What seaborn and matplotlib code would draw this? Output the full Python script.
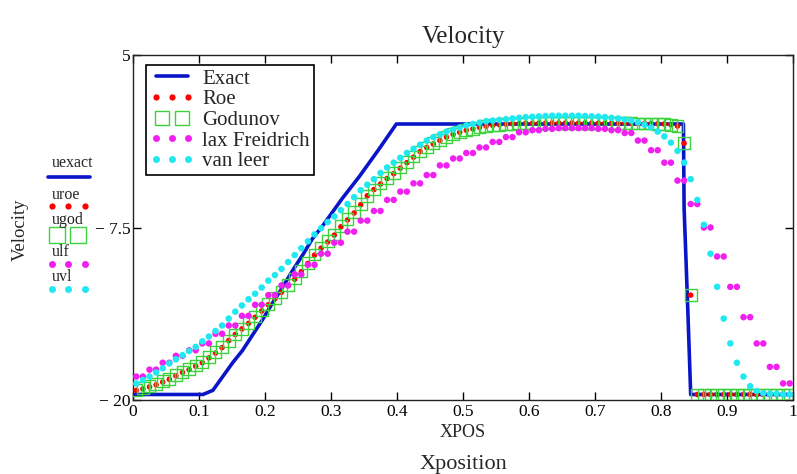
import numpy as np
import matplotlib
matplotlib.use("Agg")
import matplotlib.pyplot as plt
import seaborn as sns
from matplotlib.lines import Line2D
from matplotlib.legend_handler import HandlerLine2D

# ---------------- data ----------------
x_cells = np.linspace(0.005, 0.995, 100)   # cell centres, dx = 0.01

exact_x = [0.0, 0.106, 0.121, 0.136, 0.151, 0.166, 0.181, 0.196, 0.211, 0.227,
           0.242, 0.257, 0.272, 0.287, 0.302, 0.317, 0.343, 0.358, 0.373, 0.386,
           0.399, 0.834, 0.835, 0.838, 0.841, 0.845, 1.0]
exact_u = [-19.6, -19.6, -19.3, -18.3, -17.3, -16.4, -15.3, -14.2, -13.0, -11.8,
           -10.6, -9.5, -8.3, -7.4, -6.4, -5.4, -3.8, -2.8, -1.8, -0.9,
           0.0, 0.0, -6.1, -10.0, -14.0, -19.6, -19.6]

u_roe = [-19.3, -19.2, -19.05, -18.9, -18.7, -18.5, -18.25, -18.0, -17.8, -17.55,
         -17.3, -16.95, -16.6, -16.2, -15.7, -15.25, -14.85, -14.45, -14.0, -13.55,
         -13.1, -12.65, -12.2, -11.7, -11.25, -10.7, -10.1, -9.5, -9.0, -8.55,
         -8.05, -7.45, -6.95, -6.45, -5.85, -5.2, -4.75, -4.35, -3.95, -3.6,
         -3.2, -2.8, -2.4, -2.0, -1.7, -1.45, -1.2, -0.95, -0.75, -0.6,
         -0.45, -0.35, -0.25, -0.15, -0.1, -0.05,
         0.0, 0.02, 0.03, 0.05, 0.05, 0.06, 0.06, 0.07, 0.07, 0.07,
         0.07, 0.07, 0.07, 0.07, 0.06, 0.06, 0.06, 0.05, 0.05, 0.05,
         0.04, 0.04, 0.03, 0.02, 0.0, -0.05, -0.15,
         -1.4, -12.4,
         -19.6, -19.6, -19.6, -19.6, -19.6, -19.6, -19.6, -19.6, -19.6, -19.6,
         -19.6, -19.6, -19.6, -19.6, -19.6]

u_god = [-19.3, -19.15, -19.0, -18.85, -18.65, -18.45, -18.2, -17.95, -17.75, -17.5,
         -17.25, -16.9, -16.55, -16.15, -15.7, -15.25, -14.85, -14.4, -13.95, -13.5,
         -13.05, -12.6, -12.15, -11.65, -11.2, -10.65, -10.05, -9.45, -8.95, -8.5,
         -8.0, -7.4, -6.9, -6.4, -5.8, -5.2, -4.75, -4.3, -3.9, -3.55,
         -3.15, -2.75, -2.35, -2.0, -1.7, -1.4, -1.15, -0.95, -0.75, -0.6,
         -0.45, -0.35, -0.25, -0.15, -0.1, -0.05,
         0.0, 0.02, 0.03, 0.05, 0.05, 0.06, 0.06, 0.07, 0.07, 0.07,
         0.07, 0.07, 0.07, 0.07, 0.06, 0.06, 0.06, 0.05, 0.05, 0.05,
         0.04, 0.04, 0.03, 0.02, 0.0, -0.05, -0.15,
         -1.4, -12.4,
         -19.6, -19.6, -19.6, -19.6, -19.6, -19.6, -19.6, -19.6, -19.6, -19.6,
         -19.6, -19.6, -19.6, -19.6, -19.6]

u_lf = [-18.3, -18.3, -17.8, -17.8, -17.3, -17.3, -16.8, -16.8, -16.4, -16.4,
        -15.9, -15.9, -15.2, -15.2, -14.6, -14.6, -13.9, -13.9, -13.1, -13.1,
        -12.4, -12.4, -11.7, -11.7, -10.9, -10.9, -10.2, -10.2, -9.4, -9.4,
        -8.6, -8.6, -7.8, -7.8, -7.0, -7.0, -6.3, -6.3, -5.5, -5.5,
        -4.9, -4.9, -4.3, -4.3, -3.7, -3.7, -3.0, -3.0, -2.5, -2.5,
        -2.1, -2.1, -1.7, -1.7, -1.3, -1.3, -0.95, -0.95, -0.6, -0.6,
        -0.45, -0.45, -0.35, -0.35, -0.3, -0.3, -0.3, -0.3, -0.3, -0.3,
        -0.35, -0.35, -0.45, -0.45, -0.65, -0.65, -1.2, -1.2, -1.9, -1.9,
        -2.8, -2.8, -4.1, -4.1, -5.8, -5.8, -7.5, -7.5, -9.6, -9.6,
        -11.8, -11.8, -14.0, -14.0, -15.9, -15.9, -17.6, -17.6, -18.8, -18.8]

u_vl = [-18.8, -18.55, -18.3, -18.0, -17.7, -17.35, -17.05, -16.75, -16.45, -16.15,
        -15.75, -15.4, -15.0, -14.6, -14.1, -13.6, -13.15, -12.7, -12.3, -11.85,
        -11.35, -10.95, -10.5, -10.0, -9.5, -9.0, -8.5, -8.0, -7.55, -7.1,
        -6.7, -6.25, -5.8, -5.3, -4.8, -4.4, -4.0, -3.55, -3.15, -2.8,
        -2.45, -2.1, -1.8, -1.5, -1.2, -0.95, -0.75, -0.55, -0.4, -0.25,
        -0.1, 0.0, 0.1, 0.2, 0.25, 0.3, 0.35, 0.4, 0.45, 0.5,
        0.52, 0.55, 0.58, 0.6, 0.6, 0.6, 0.6, 0.6, 0.58, 0.56,
        0.54, 0.5, 0.45, 0.4, 0.33, 0.25, 0.12, -0.05, -0.25, -0.55,
        -0.9, -1.35, -1.95, -2.8, -4.0, -5.5, -7.3, -9.4, -11.8, -14.1,
        -15.9, -17.3, -18.3, -19.0, -19.35, -19.5, -19.55, -19.55, -19.6, -19.6]

series_labels = ["Exact", "Roe", "Godunov", "lax Freidrich", "van leer"]
var_names = ["uexact", "uroe", "ugod", "ulf", "uvl"]
x_ticks = [0, 0.1, 0.2, 0.3, 0.4, 0.5, 0.6, 0.7, 0.8, 0.9, 1]
x_ticklabels = ["0", "0.1", "0.2", "0.3", "0.4", "0.5", "0.6", "0.7", "0.8", "0.9", "1"]
y_ticks = [5, -7.5, -20]
y_ticklabels = ["5", "\u2212 7.5", "\u2212 20"]

# ---------------- style ----------------
sns.set_style("white")
plt.rcParams["font.family"] = ["Liberation Serif", "DejaVu Serif"]

C_EXACT = "#0a14c8"
C_ROE = "#ff0000"
C_GOD = "#3cd23c"
C_LF = "#f020f0"
C_VL = "#20e8f0"

W, H = 797, 474
fig = plt.figure(figsize=(W / 100, H / 100), dpi=100)
ax = fig.add_axes([133 / W, 1 - 400 / H, (793 - 133) / W, 345 / H])

sns.lineplot(x=exact_x, y=exact_u, ax=ax, color=C_EXACT, lw=2.6, sort=False,
             estimator=None, zorder=2)
sns.scatterplot(x=x_cells, y=u_roe, ax=ax, color=C_ROE, s=16, linewidth=0,
                edgecolor="none", zorder=3)
sns.scatterplot(x=x_cells, y=u_god, ax=ax, marker="s", s=72, facecolor="none",
                edgecolor=C_GOD, linewidth=1.0, zorder=4)
sns.scatterplot(x=x_cells, y=u_lf, ax=ax, color=C_LF, s=22, linewidth=0,
                edgecolor="none", zorder=5)
sns.scatterplot(x=x_cells, y=u_vl, ax=ax, color=C_VL, s=22, linewidth=0,
                edgecolor="none", zorder=6)

ax.set_xlim(0, 1)
ax.set_ylim(-20, 5)
ax.set_xticks(x_ticks)
ax.set_xticklabels(x_ticklabels)
ax.set_yticks(y_ticks)
ax.set_yticklabels(y_ticklabels)
ax.tick_params(axis="x", direction="in", length=5.5, width=1, top=True, bottom=True,
               labelsize=12.5, pad=3, colors="black")
ax.tick_params(axis="y", direction="in", length=6, width=1, left=True, right=True,
               labelsize=12.5, pad=2, colors="black")
for sp in ax.spines.values():
    sp.set_visible(True)
    sp.set_color("#222222")
    sp.set_linewidth(1.0)

ax.set_xlabel("XPOS", fontsize=13, labelpad=3)
ax.set_ylabel("")
ax.set_title("Velocity", fontsize=18, pad=9)

# legend
h_exact = Line2D([], [], color=C_EXACT, lw=2.6)
h_roe = Line2D([], [], ls="none", marker="o", color=C_ROE, ms=4.5, mec="none")
h_god = Line2D([], [], ls="none", marker="s", mfc="none", mec=C_GOD, ms=10, mew=1.0)
h_lf = Line2D([], [], ls="none", marker="o", color=C_LF, ms=5, mec="none")
h_vl = Line2D([], [], ls="none", marker="o", color=C_VL, ms=5, mec="none")
leg = ax.legend([h_exact, h_roe, h_god, h_lf, h_vl], series_labels,
                loc="upper left", bbox_to_anchor=(13 / 660, 1 - 10 / 345),
                borderaxespad=0, numpoints=3,
                handler_map={h_god: HandlerLine2D(numpoints=2, marker_pad=0.55)},
                frameon=True, fancybox=False, framealpha=1, edgecolor="black",
                borderpad=0.2, handlelength=2.1, handletextpad=0.4,
                labelspacing=0.05, fontsize=15)
leg.get_frame().set_linewidth(1.2)

# outer labels
fig.text(463 / W, 1 - 464 / H, "Xposition", ha="center", va="center", fontsize=16)
fig.text(20 / W, 1 - 230 / H, "Velocity", ha="center", va="center", rotation=90,
         fontsize=13.5)

# Mathcad-style trace key on the left
key_y_text = [163, 195, 220, 252, 277]
key_y_mark = [177, 206, 235, 264, 289]
for name, yt in zip(var_names, key_y_text):
    fig.text(52 / W, 1 - yt / H, name, ha="left", va="center", fontsize=11.5)
fig.add_artist(Line2D([48 / W, 90 / W], [1 - key_y_mark[0] / H] * 2,
                      transform=fig.transFigure, color=C_EXACT, lw=2.6))
dots3 = [52 / W, 68 / W, 85 / W]
fig.add_artist(Line2D(dots3, [1 - key_y_mark[1] / H] * 3, transform=fig.transFigure,
                      ls="none", marker="o", color=C_ROE, ms=4.5, mec="none"))
fig.add_artist(Line2D([57 / W, 78 / W], [1 - key_y_mark[2] / H] * 2,
                      transform=fig.transFigure, ls="none", marker="s", mfc="none",
                      mec=C_GOD, ms=11, mew=1.0))
fig.add_artist(Line2D(dots3, [1 - key_y_mark[3] / H] * 3, transform=fig.transFigure,
                      ls="none", marker="o", color=C_LF, ms=5, mec="none"))
fig.add_artist(Line2D(dots3, [1 - key_y_mark[4] / H] * 3, transform=fig.transFigure,
                      ls="none", marker="o", color=C_VL, ms=5, mec="none"))

fig.savefig("out.png", dpi=100, facecolor="white")
